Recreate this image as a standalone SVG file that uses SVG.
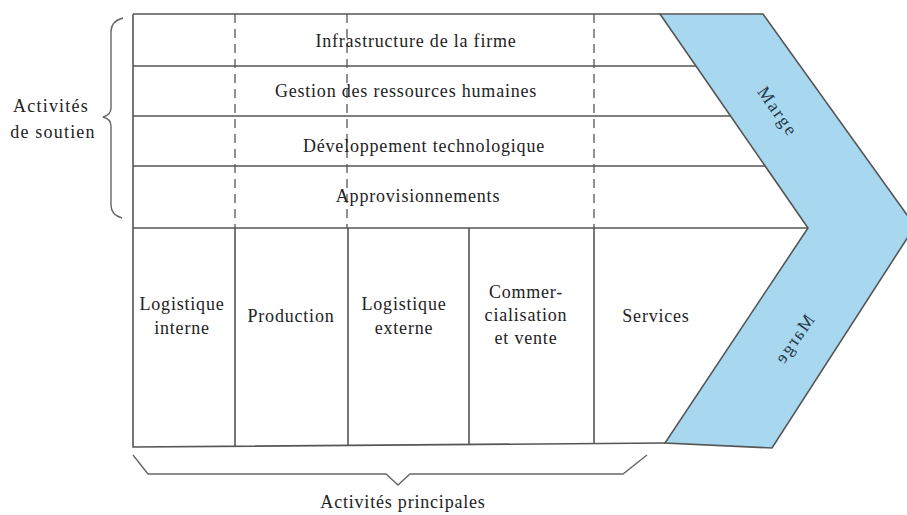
<svg xmlns="http://www.w3.org/2000/svg" width="907" height="515" viewBox="0 0 907 515">
<style>
.ln{stroke:#555;stroke-width:1.6;fill:none}
.dash{stroke:#555;stroke-width:1.3;fill:none;stroke-dasharray:9 6}
.br{stroke:#666;stroke-width:1.4;fill:none}
.t{font-family:"Liberation Serif","Times New Roman",serif;font-size:18px;fill:#222;text-anchor:middle;letter-spacing:0.8px}
.m{font-family:"Liberation Serif","Times New Roman",serif;font-size:18px;fill:#26384a;text-anchor:middle;letter-spacing:2px}
</style>
<rect width="907" height="515" fill="#fff"/>
<g id="marge">
<polygon points="660,14 763,14 915,226 772,448 665,443 808,228" fill="#a8d8f0" stroke="#555" stroke-width="1.6"/>
<text class="m" transform="translate(777,112) rotate(55)" x="0" y="5">Marge</text>
<text class="m" transform="translate(795,340) scale(-1,1) rotate(55)" x="0" y="5">Marge</text>
</g>
<g id="connectors">
<path class="ln" d="M133,14 L660,14 M133,66 L696,66 M133,116 L730.5,116 M133,166 L765,166 M133,228 L808,228 M133,14 L133,447 L665,443"/>
<path class="dash" d="M235,14 L235,228 M347,14 L347,228 M594,14 L594,228"/>
<path class="ln" d="M235,228 L235,446 M348,228 L348,445 M469,228 L469,445 M594,228 L594,444"/>
<path class="br" d="M123,18 Q111,21 111,32 L111,108 Q111,115 103,117 Q111,119 111,126 L111,205 Q111,215 122,218"/>
<path class="br" d="M133,455 L148,474 L386,474 L398,485 L410,474 L623,474 L647,455"/>
</g>
<g id="support-label"><text class="t" x="51" y="112" style="letter-spacing:1.2px">Activités</text><text class="t" x="53" y="138" style="letter-spacing:1.2px">de soutien</text></g>
<g id="infrastructure"><text class="t" x="416" y="47">Infrastructure de la firme</text></g>
<g id="grh"><text class="t" x="406" y="97">Gestion des ressources humaines</text></g>
<g id="developpement"><text class="t" x="424" y="152">Développement technologique</text></g>
<g id="approvisionnements"><text class="t" x="418" y="202">Approvisionnements</text></g>
<g id="logistique-interne"><text class="t" x="182" y="310">Logistique</text><text class="t" x="182" y="334">interne</text></g>
<g id="production"><text class="t" x="291" y="322">Production</text></g>
<g id="logistique-externe"><text class="t" x="404" y="310">Logistique</text><text class="t" x="404" y="334">externe</text></g>
<g id="commercialisation"><text class="t" x="526" y="298">Commer-</text><text class="t" x="526" y="321">cialisation</text><text class="t" x="526" y="344">et vente</text></g>
<g id="services"><text class="t" x="656" y="322">Services</text></g>
<g id="principales-label"><text class="t" x="403" y="508">Activités principales</text></g>
</svg>
